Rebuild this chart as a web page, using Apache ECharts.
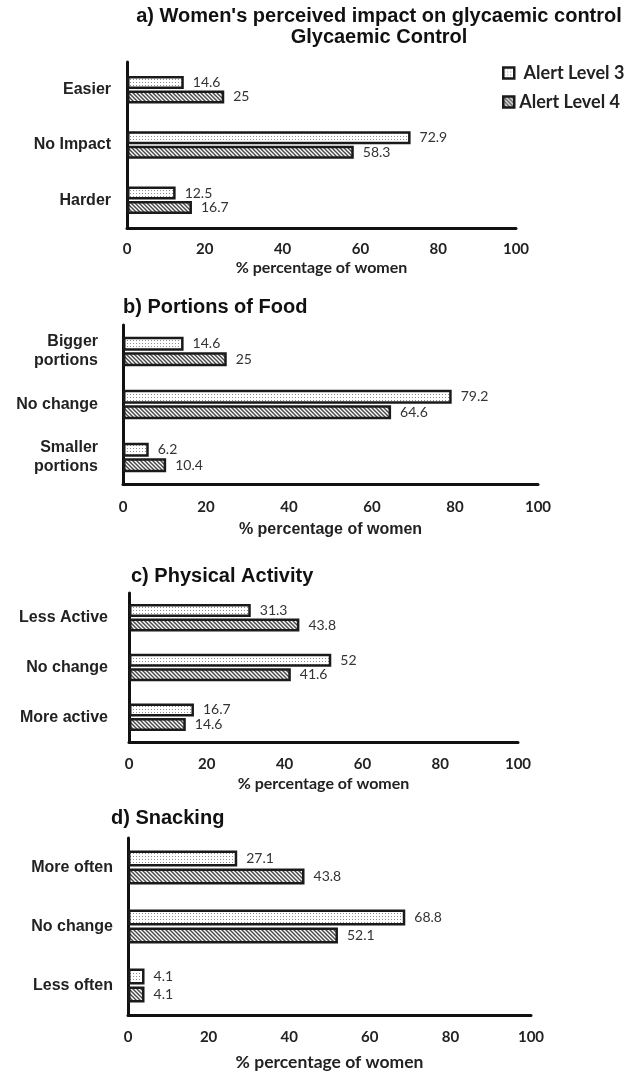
<!DOCTYPE html>
<html>
<head>
<meta charset="utf-8">
<script src="https://cdn.jsdelivr.net/npm/echarts@6/dist/echarts.min.js"></script>
<style>
  html, body { margin: 0; padding: 0; background: #fff; }
  #chart { width: 635px; height: 1072px; }
</style>
</head>
<body>
<div id="chart"></div>
<script>
// values (% of women)
var catsA = ['Easier', 'No Impact', 'Harder']
var level3A = [14.6, 72.9, 12.5]
var level4A = [25, 58.3, 16.7]

var catsB = ['Bigger\nportions', 'No change', 'Smaller\nportions']
var level3B = [14.6, 79.2, 6.2]
var level4B = [25, 64.6, 10.4]

var catsC = ['Less Active', 'No change', 'More active']
var level3C = [31.3, 52, 16.7]
var level4C = [43.8, 41.6, 14.6]

var catsD = ['More often', 'No change', 'Less often']
var level3D = [27.1, 68.8, 4.1]
var level4D = [43.8, 52.1, 4.1]

var seriesNames = ['Alert Level 3', 'Alert Level 4']
var axisMin = 0
var axisMax = 100
var axisStep = 20

// fill patterns
function dotPattern() {
  var c = document.createElement('canvas')
  c.width = 3
  c.height = 3
  var g = c.getContext('2d')
  g.fillStyle = '#fff'
  g.fillRect(0, 0, 3, 3)
  g.fillStyle = '#8c8c8c'
  g.fillRect(1, 1, 1, 1)
  return c
}
function hatchPattern() {
  var s = 4
  var c = document.createElement('canvas')
  c.width = s
  c.height = s
  var g = c.getContext('2d')
  g.fillStyle = '#fff'
  g.fillRect(0, 0, s, s)
  g.strokeStyle = '#4a4a4a'
  g.lineWidth = 1.5
  g.beginPath()
  g.moveTo(-1, -1); g.lineTo(s + 1, s + 1)
  g.moveTo(-1, s - 1); g.lineTo(1, s + 1)
  g.moveTo(s - 1, -1); g.lineTo(s + 1, 1)
  g.stroke()
  return c
}
var fills = [
  { image: dotPattern(), repeat: 'repeat' },
  { image: hatchPattern(), repeat: 'repeat' }
]

var arial = 'Liberation Sans, Arial, sans-serif'
var calibri = 'Lato, Open Sans, sans-serif'

var panels = [
  { cats: catsA, v3: level3A, v4: level4A, left: 127, top: 62, width: 389, height: 166, barW: 13,
    catMargin: 16, tickMargin: 14, nameGap: 32, nameFont: calibri, nameSize: 16 },
  { cats: catsB, v3: level3B, v4: level4B, left: 123, top: 325, width: 415, height: 159, barW: 14,
    catMargin: 25, tickMargin: 16, nameGap: 38, nameFont: arial, nameSize: 16 },
  { cats: catsC, v3: level3C, v4: level4C, left: 129, top: 593, width: 389, height: 149, barW: 13,
    catMargin: 21, tickMargin: 15, nameGap: 34, nameFont: calibri, nameSize: 16 },
  { cats: catsD, v3: level3D, v4: level4D, left: 128, top: 838, width: 403, height: 180, barW: 16,
    catMargin: 15, tickMargin: 15, nameGap: 38, nameFont: calibri, nameSize: 17.5 }
]

var grids = []
var xAxes = []
var yAxes = []
var series = []

panels.forEach(function(p, i) {
  grids.push({ left: p.left, top: p.top, width: p.width, height: p.height, containLabel: false })
  xAxes.push({
    type: 'value',
    gridIndex: i,
    min: axisMin,
    max: axisMax,
    interval: axisStep,
    name: '% percentage of women',
    nameLocation: 'middle',
    nameGap: p.nameGap,
    nameTextStyle: { fontFamily: p.nameFont, fontWeight: 'bold', fontSize: p.nameSize, color: '#222' },
    axisLine: { show: true, lineStyle: { color: '#111', width: 3 } },
    axisTick: { show: false },
    splitLine: { show: false },
    axisLabel: { margin: p.tickMargin, fontFamily: calibri, fontWeight: 'bold', fontSize: 15, color: '#222' }
  })
  yAxes.push({
    type: 'category',
    gridIndex: i,
    inverse: true,
    data: p.cats,
    axisLine: { show: true, lineStyle: { color: '#111', width: 3 } },
    axisTick: { show: false },
    axisLabel: { margin: p.catMargin, fontFamily: arial, fontWeight: 'bold', fontSize: 16,
      lineHeight: 19, color: '#222', align: 'right' }
  })
  ;[p.v3, p.v4].forEach(function(vals, k) {
    series.push({
      name: seriesNames[k],
      type: 'bar',
      xAxisIndex: i,
      yAxisIndex: i,
      data: vals,
      barWidth: p.barW,
      barGap: '12%',
      itemStyle: { color: fills[k], borderColor: '#1a1a1a', borderWidth: 2.5 },
      label: { show: true, position: 'right', distance: 9, fontFamily: calibri, fontSize: 14, color: '#333' },
      emphasis: { disabled: true },
      animation: false
    })
  })
})

var titleStyle = { fontFamily: arial, fontWeight: 'bold', fontSize: 20, lineHeight: 21, color: '#111' }

var chart = echarts.init(document.getElementById('chart'))
chart.setOption({
  animation: false,
  title: [
    { text: 'a) Women\'s perceived impact on glycaemic control\nGlycaemic Control', left: 374, top: 1,
      textAlign: 'center', textStyle: titleStyle },
    { text: 'b) Portions of Food', left: 118, top: 292, textStyle: titleStyle },
    { text: 'c) Physical Activity', left: 126, top: 561, textStyle: titleStyle },
    { text: 'd) Snacking', left: 106, top: 803, textStyle: titleStyle }
  ],
  legend: {
    data: seriesNames,
    orient: 'vertical',
    left: 497,
    top: 59,
    itemWidth: 11,
    itemHeight: 11,
    itemGap: 11,
    itemStyle: { borderWidth: 2.5 },
    icon: 'rect',
    formatter: function(name) {
      return name === 'Alert Level 3' ? ' ' + name : name
    },
    textStyle: { fontFamily: calibri, fontWeight: 'bold', fontSize: 18, color: '#222' }
  },
  grid: grids,
  xAxis: xAxes,
  yAxis: yAxes,
  series: series
})
</script>
</body>
</html>
